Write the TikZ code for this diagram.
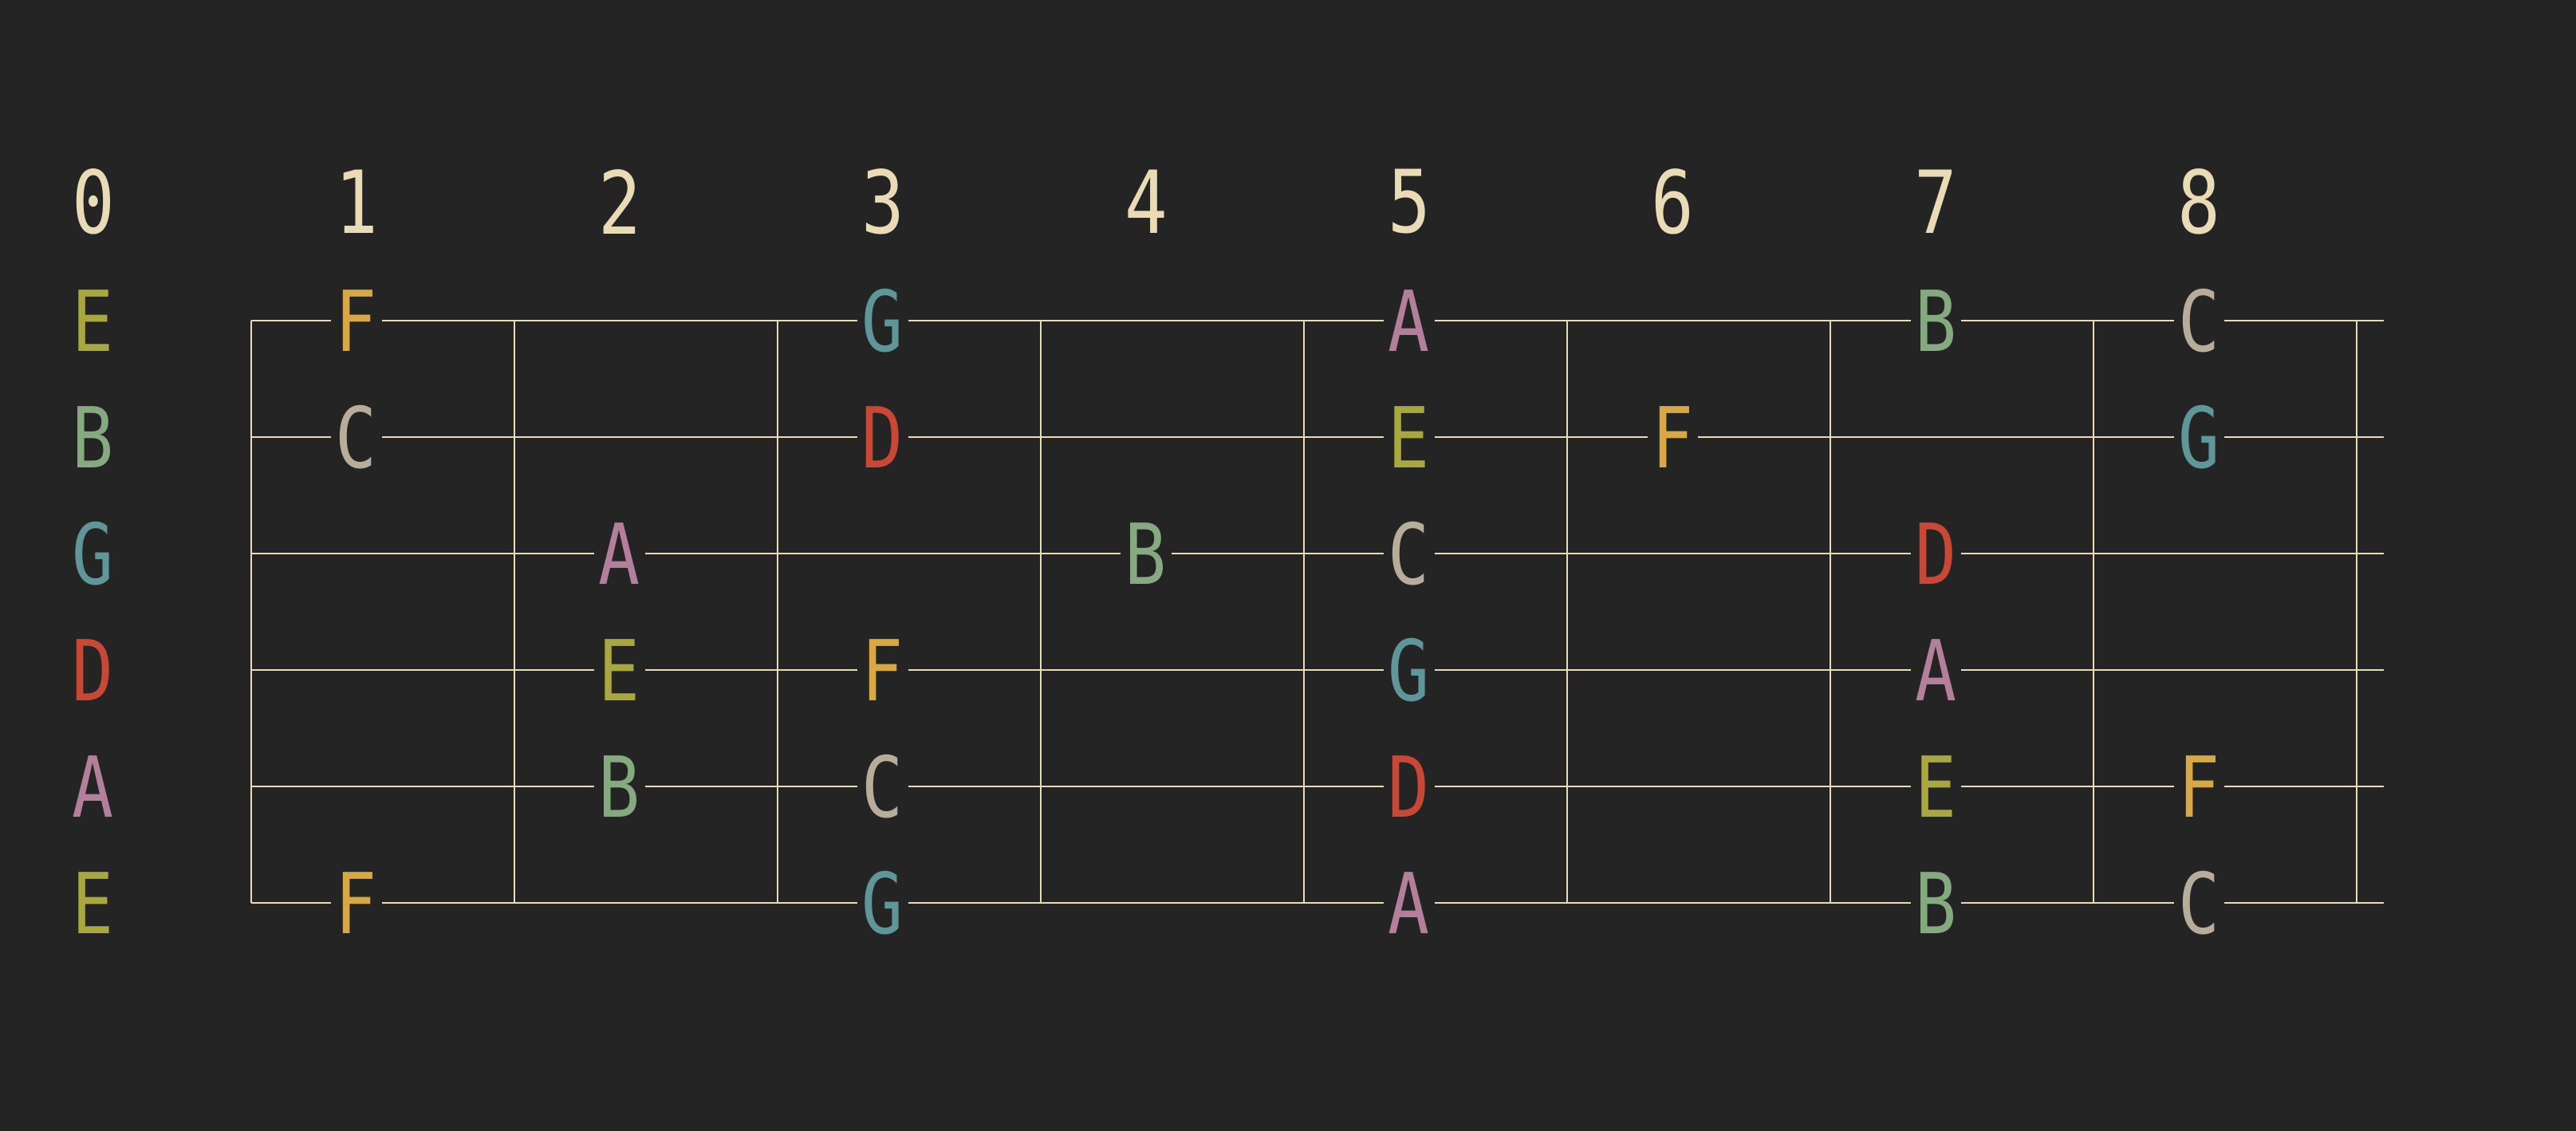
\documentclass[tikz,border=0pt]{standalone}
\usepackage{fontspec}
\setmainfont{DejaVu Sans Mono}[FakeStretch=0.82]
\usetikzlibrary{
    calc,
    positioning,
}
\definecolor{Board}{HTML}{242424}
\definecolor{Wire}{HTML}{E8DBB5}
\definecolor{NoteA}{HTML}{B47F9A}
\definecolor{NoteB}{HTML}{86AA80}
\definecolor{NoteC}{HTML}{B7AD9A}
\definecolor{NoteD}{HTML}{C94835}
\definecolor{NoteE}{HTML}{A9A840}
\definecolor{NoteF}{HTML}{D8A844}
\definecolor{NoteG}{HTML}{5F9699}
\tikzstyle{fretnum}=[text=Wire,inner sep=0pt,font=\fontsize{31}{31}\selectfont]
\tikzstyle{note}=[fill=Board,inner xsep=0.55mm,inner ysep=2pt,font=\fontsize{30}{30}\selectfont]
\tikzstyle{gstring}=[draw=Wire,line width=0.6pt]
\tikzstyle{fret}=[draw=Wire,line width=0.6pt]
\newcommand{\Note}[3]{%
    \node[note,text=Note#3] (n#1-#2) at (num#2 |- S#1) {#3};
}

\begin{document}
\begin{tikzpicture}[x=1cm,y=-1cm]
    \fill[Board] (0,0) rectangle (32.30,14.18);

    % fret numbers
    \node[fretnum] (num0) at (1.17,2.53) {0};
    \node[fretnum] (num1) at ([xshift=3.3cm]num0) {1};
    \node[fretnum] (num2) at ([xshift=3.3cm]num1) {2};
    \node[fretnum] (num3) at ([xshift=3.3cm]num2) {3};
    \node[fretnum] (num4) at ([xshift=3.3cm]num3) {4};
    \node[fretnum] (num5) at ([xshift=3.3cm]num4) {5};
    \node[fretnum] (num6) at ([xshift=3.3cm]num5) {6};
    \node[fretnum] (num7) at ([xshift=3.3cm]num6) {7};
    \node[fretnum] (num8) at ([xshift=3.3cm]num7) {8};

    % strings
    \coordinate (S1) at (3.15,4.02);
    \coordinate (S2) at (3.15,5.48);
    \coordinate (S3) at (3.15,6.94);
    \coordinate (S4) at (3.15,8.40);
    \coordinate (S5) at (3.15,9.86);
    \coordinate (S6) at (3.15,11.32);
    \draw[gstring] (S1) -- ++(26.74,0) coordinate (S1e);
    \draw[gstring] (S2) -- ++(26.74,0) coordinate (S2e);
    \draw[gstring] (S3) -- ++(26.74,0) coordinate (S3e);
    \draw[gstring] (S4) -- ++(26.74,0) coordinate (S4e);
    \draw[gstring] (S5) -- ++(26.74,0) coordinate (S5e);
    \draw[gstring] (S6) -- ++(26.74,0) coordinate (S6e);

    % frets
    \draw[fret] (S1) -- (S6);
    \draw[fret] ([xshift=3.3cm]S1) -- ([xshift=3.3cm]S6);
    \draw[fret] ([xshift=6.6cm]S1) -- ([xshift=6.6cm]S6);
    \draw[fret] ([xshift=9.9cm]S1) -- ([xshift=9.9cm]S6);
    \draw[fret] ([xshift=13.2cm]S1) -- ([xshift=13.2cm]S6);
    \draw[fret] ([xshift=16.5cm]S1) -- ([xshift=16.5cm]S6);
    \draw[fret] ([xshift=19.8cm]S1) -- ([xshift=19.8cm]S6);
    \draw[fret] ([xshift=23.1cm]S1) -- ([xshift=23.1cm]S6);
    \draw[fret] ([xshift=26.4cm]S1) -- ([xshift=26.4cm]S6);

    % open strings
    \Note{1}{0}{E}
    \Note{2}{0}{B}
    \Note{3}{0}{G}
    \Note{4}{0}{D}
    \Note{5}{0}{A}
    \Note{6}{0}{E}

    % notes on the board
    \Note{1}{1}{F} \Note{1}{3}{G} \Note{1}{5}{A} \Note{1}{7}{B} \Note{1}{8}{C}
    \Note{2}{1}{C} \Note{2}{3}{D} \Note{2}{5}{E} \Note{2}{6}{F} \Note{2}{8}{G}
    \Note{3}{2}{A} \Note{3}{4}{B} \Note{3}{5}{C} \Note{3}{7}{D}
    \Note{4}{2}{E} \Note{4}{3}{F} \Note{4}{5}{G} \Note{4}{7}{A}
    \Note{5}{2}{B} \Note{5}{3}{C} \Note{5}{5}{D} \Note{5}{7}{E} \Note{5}{8}{F}
    \Note{6}{1}{F} \Note{6}{3}{G} \Note{6}{5}{A} \Note{6}{7}{B} \Note{6}{8}{C}
\end{tikzpicture}
\end{document}
